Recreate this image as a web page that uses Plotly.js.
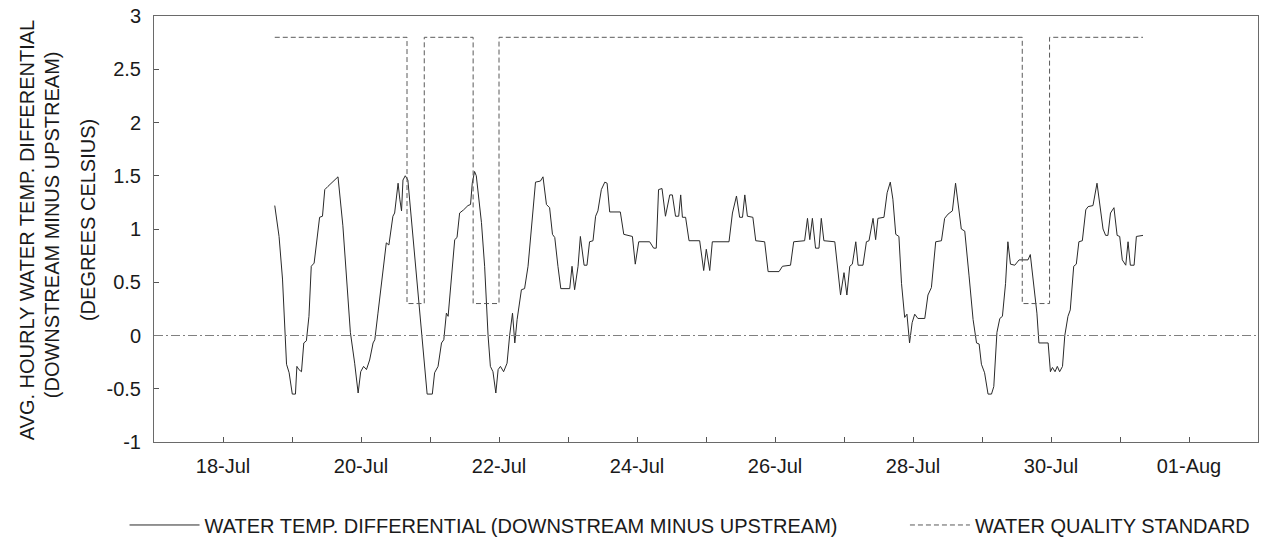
<!DOCTYPE html>
<html>
<head>
<meta charset="utf-8">
<script src="https://cdn.plot.ly/plotly-3.0.1.min.js"></script>
<style>
  html, body { margin: 0; padding: 0; background: #ffffff; }
  #chart { width: 1276px; height: 548px; }
</style>
</head>
<body>
<div id="chart"></div>
<script>
// Hours after 18-Jul 00:00 and the measured differential (deg C) at each vertex
const diffHours = [
  18.0, 19.5, 20.7, 21.5, 22.1, 23.0, 24.1, 25.2, 25.7, 26.4,
  27.3, 28.1, 29.0, 29.9, 30.7, 31.7, 32.7, 33.6, 34.6, 35.4,
  36.5, 37.7, 38.9, 40.0, 41.7, 43.1, 44.3, 45.8, 47.0, 47.9,
  48.9, 49.9, 51.0, 52.2, 52.8, 53.9, 55.7, 56.8, 57.7, 58.6,
  59.1, 59.7, 60.9, 61.5, 62.1, 62.6, 63.4, 64.3, 65.5, 66.7,
  67.8, 69.0, 70.2, 71.0, 72.8, 73.6, 74.8, 76.0, 76.8, 77.7,
  78.3, 78.9, 79.8, 80.6, 81.4, 82.3, 83.7, 85.2, 86.1, 86.7,
  87.5, 88.1, 89.9, 91.0, 92.2, 93.0, 93.9, 94.9, 95.7, 96.5,
  97.6, 98.8, 99.7, 100.7, 101.5, 102.3, 103.8, 104.9, 106.1, 107.3,
  108.7, 110.4, 111.3, 112.5, 113.6, 114.6, 115.4, 116.5, 117.5, 120.6,
  121.4, 122.3, 123.5, 124.3, 125.6, 126.6, 127.5, 128.7, 129.6, 130.4,
  131.6, 132.8, 133.6, 134.5, 138.2, 139.4, 142.4, 143.4, 144.6, 148.4,
  149.8, 150.7, 151.5, 152.7, 153.9, 155.4, 156.3, 157.4, 158.5, 159.2,
  159.8, 160.9, 162.1, 165.8, 167.2, 168.1, 169.3, 170.2, 176.0, 177.2,
  178.6, 179.7, 180.7, 181.5, 182.4, 184.3, 185.3, 188.4, 189.6, 193.4,
  194.6, 197.4, 198.5, 202.3, 203.3, 204.1, 205.0, 206.1, 207.3, 208.1,
  209.0, 212.8, 213.9, 214.8, 216.0, 217.0, 218.0, 218.9, 220.1, 220.9,
  222.6, 223.8, 224.7, 226.1, 227.0, 227.8, 229.9, 231.0, 232.1, 233.0,
  234.0, 235.1, 236.0, 237.1, 237.9, 238.8, 239.7, 240.6, 241.7, 244.1,
  245.2, 246.4, 247.9, 249.9, 251.0, 252.2, 253.7, 254.8, 256.8, 258.0,
  259.5, 260.9, 262.1, 263.0, 263.8, 264.9, 266.1, 267.3, 268.1, 269.2,
  270.2, 271.1, 272.2, 273.0, 273.9, 275.4, 276.9, 280.0, 280.8, 281.7,
  283.1, 283.8, 287.0, 287.8, 288.5, 289.4, 290.2, 291.0, 292.0, 292.8,
  293.9, 294.7, 295.9, 296.8, 297.7, 298.9, 300.1, 300.9, 302.6, 304.0,
  305.2, 306.1, 307.0, 307.8, 308.7, 309.9, 311.0, 311.9, 312.8, 314.0,
  314.8, 315.6, 316.9, 317.7, 320.0
];
const diffValues = [
  1.22, 0.93, 0.53, 0.00, -0.27, -0.35, -0.55, -0.55, -0.29, -0.32,
  -0.34, -0.07, -0.05, 0.18, 0.65, 0.68, 0.93, 1.11, 1.12, 1.37,
  1.40, 1.43, 1.46, 1.49, 1.03, 0.49, 0.03, -0.26, -0.54, -0.34,
  -0.29, -0.32, -0.23, -0.07, -0.04, 0.21, 0.65, 0.87, 0.85, 1.00,
  1.12, 1.15, 1.43, 1.28, 1.17, 1.46, 1.50, 1.46, 1.09, 0.78,
  0.40, 0.00, -0.29, -0.55, -0.55, -0.35, -0.29, -0.07, -0.04, 0.21,
  0.18, 0.37, 0.65, 0.90, 0.92, 1.15, 1.18, 1.22, 1.23, 1.43,
  1.54, 1.50, 1.06, 0.65, 0.00, -0.29, -0.34, -0.54, -0.32, -0.29,
  -0.34, -0.26, 0.00, 0.21, -0.07, 0.15, 0.43, 0.44, 0.65, 1.00,
  1.44, 1.45, 1.49, 1.23, 1.20, 0.95, 0.92, 0.65, 0.44, 0.44,
  0.65, 0.43, 0.65, 0.93, 0.66, 0.66, 0.88, 0.89, 1.12, 1.17,
  1.37, 1.44, 1.43, 1.16, 1.16, 0.95, 0.93, 0.67, 0.88, 0.88,
  0.82, 0.82, 1.37, 1.38, 1.12, 1.32, 1.32, 1.12, 1.12, 1.32,
  1.11, 1.11, 0.89, 0.89, 0.61, 0.81, 0.61, 0.88, 0.88, 1.15,
  1.31, 1.11, 1.11, 1.32, 1.12, 1.11, 0.89, 0.88, 0.60, 0.60,
  0.65, 0.66, 0.88, 0.89, 1.10, 0.90, 1.10, 0.82, 0.82, 1.10,
  0.89, 0.88, 0.62, 0.38, 0.59, 0.38, 0.65, 0.67, 0.88, 0.66,
  0.66, 0.88, 0.89, 1.10, 0.90, 1.10, 1.11, 1.34, 1.44, 1.28,
  0.95, 0.93, 0.49, 0.17, 0.20, -0.07, 0.12, 0.20, 0.16, 0.16,
  0.38, 0.45, 0.88, 0.89, 1.10, 1.14, 1.17, 1.43, 1.00, 0.98,
  0.56, 0.15, -0.07, -0.08, -0.27, -0.35, -0.55, -0.55, -0.48, 0.03,
  0.16, 0.18, 0.49, 0.88, 0.67, 0.66, 0.71, 0.71, 0.76, 0.53,
  0.21, -0.07, -0.07, -0.34, -0.30, -0.34, -0.29, -0.34, -0.29, 0.00,
  0.18, 0.24, 0.65, 0.67, 0.88, 0.89, 1.18, 1.21, 1.22, 1.43,
  1.15, 1.00, 0.94, 0.94, 1.15, 1.20, 0.94, 0.93, 0.71, 0.66,
  0.88, 0.66, 0.66, 0.93, 0.94
];
// Water quality standard (step changes), hours after 18-Jul 00:00
const stdHours  = [18, 64, 70, 87, 96, 278, 287.5, 320];
const stdValues = [2.8, 0.3, 2.8, 0.3, 2.8, 0.3, 2.8, 2.8];

const seriesNames = [
  'WATER TEMP. DIFFERENTIAL (DOWNSTREAM MINUS UPSTREAM)',
  'WATER QUALITY STANDARD'
];
const yTitleLines = [
  'AVG. HOURLY WATER TEMP. DIFFERENTIAL',
  '(DOWNSTREAM MINUS UPSTREAM)',
  '(DEGREES CELSIUS)'
];
const yTickVals = [-1, -0.5, 0, 0.5, 1, 1.5, 2, 2.5, 3];
const yTickText = ['-1', '-0.5', '0', '0.5', '1', '1.5', '2', '2.5', '3'];

const baseMs = Date.UTC(1999, 6, 18, 0, 0, 0);
function toDate(h) {
  return new Date(baseMs + h * 3600000).toISOString().slice(0, 19).replace('T', ' ');
}

const FONT = 'Liberation Sans, Arial, Helvetica, sans-serif';
const TXT = '#1a1a1a';
const FS = 20;

const traces = [
  {
    type: 'scatter', mode: 'lines', name: seriesNames[0],
    x: diffHours.map(toDate), y: diffValues,
    line: { color: '#2a2a2a', width: 1 },
    legend: 'legend', hoverinfo: 'x+y'
  },
  {
    type: 'scatter', mode: 'lines', name: seriesNames[1],
    x: stdHours.map(toDate), y: stdValues,
    line: { color: '#5a5a5a', width: 1, dash: '5px,3px', shape: 'hv' },
    legend: 'legend2', hoverinfo: 'x+y'
  }
];

const layout = {
  width: 1276, height: 548,
  margin: { l: 154, r: 18, t: 16, b: 106, autoexpand: false },
  paper_bgcolor: '#ffffff', plot_bgcolor: '#ffffff',
  font: { family: FONT, size: FS, color: TXT },
  showlegend: true,
  xaxis: {
    type: 'date',
    range: [toDate(-24), toDate(15 * 24)],
    tick0: toDate(0), dtick: 2 * 86400000,
    tickformat: '%d-%b',
    ticks: 'inside', ticklen: 5, tickcolor: '#555', tickwidth: 1,
    minor: { dtick: 86400000, ticks: 'inside', ticklen: 5, tickcolor: '#555', showgrid: false },
    showgrid: false, zeroline: false,
    showline: true, mirror: true, linecolor: '#6a6a6a', linewidth: 1,
    tickfont: { family: FONT, size: FS, color: TXT },
    ticklabelstandoff: 6
  },
  yaxis: {
    range: [-1, 3],
    tickvals: yTickVals, ticktext: yTickText,
    ticks: 'inside', ticklen: 5, tickcolor: '#555', tickwidth: 1,
    showgrid: false, zeroline: false,
    showline: true, mirror: true, linecolor: '#6a6a6a', linewidth: 1,
    tickfont: { family: FONT, size: FS, color: TXT },
    ticklabelstandoff: 8
  },
  shapes: [
    { type: 'line', xref: 'paper', x0: 0, x1: 1, yref: 'y', y0: 0, y1: 0,
      line: { color: '#808080', width: 1, dash: '9px,3px,2px,3px' } }
  ],
  annotations: [
    { text: yTitleLines[0], xref: 'paper', yref: 'paper', x: 0, y: 0.497, xshift: -127,
      xanchor: 'center', yanchor: 'middle', textangle: -90, showarrow: false,
      font: { family: FONT, size: FS, color: TXT } },
    { text: yTitleLines[1], xref: 'paper', yref: 'paper', x: 0, y: 0.509, xshift: -102,
      xanchor: 'center', yanchor: 'middle', textangle: -90, showarrow: false,
      font: { family: FONT, size: FS, color: TXT } },
    { text: yTitleLines[2], xref: 'paper', yref: 'paper', x: 0, y: 0.521, xshift: -66,
      xanchor: 'center', yanchor: 'middle', textangle: -90, showarrow: false,
      font: { family: FONT, size: FS, color: TXT } }
  ],
  legend: {
    x: 0.0976, y: 0.042, xref: 'container', yref: 'container', xanchor: 'left', yanchor: 'middle',
    bgcolor: 'rgba(0,0,0,0)', borderwidth: 0, itemwidth: 70,
    font: { family: FONT, size: FS, color: TXT }
  },
  legend2: {
    x: 0.7092, y: 0.042, xref: 'container', yref: 'container', xanchor: 'left', yanchor: 'middle',
    bgcolor: 'rgba(0,0,0,0)', borderwidth: 0, itemwidth: 60,
    font: { family: FONT, size: FS, color: TXT }
  }
};

Plotly.newPlot('chart', traces, layout, { displayModeBar: false, staticPlot: true });
</script>
</body>
</html>
